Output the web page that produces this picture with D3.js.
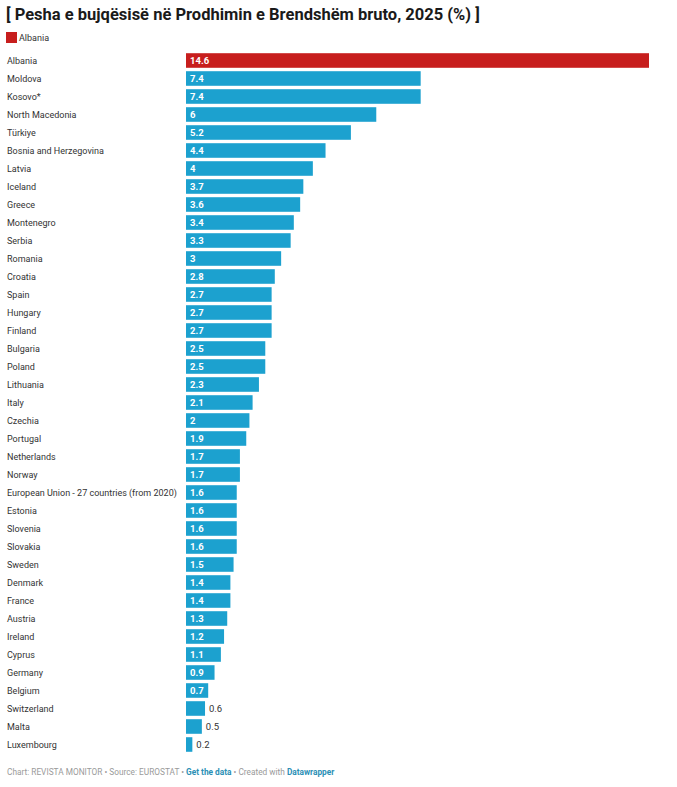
<!DOCTYPE html>
<html><head><meta charset="utf-8">
<script src="https://cdn.jsdelivr.net/npm/d3@7"></script>
<style>
body{margin:0;background:#fff;font-family:Roboto,"Noto Sans",sans-serif;}
</style></head>
<body>
<svg id="chart" width="677" height="787"></svg>
<script>
const countries = ["Albania","Moldova","Kosovo*","North Macedonia","Türkiye","Bosnia and Herzegovina","Latvia","Iceland","Greece","Montenegro","Serbia","Romania","Croatia","Spain","Hungary","Finland","Bulgaria","Poland","Lithuania","Italy","Czechia","Portugal","Netherlands","Norway","European Union - 27 countries (from 2020)","Estonia","Slovenia","Slovakia","Sweden","Denmark","France","Austria","Ireland","Cyprus","Germany","Belgium","Switzerland","Malta","Luxembourg"];
const values = [14.6,7.4,7.4,6,5.2,4.4,4,3.7,3.6,3.4,3.3,3,2.8,2.7,2.7,2.7,2.5,2.5,2.3,2.1,2,1.9,1.7,1.7,1.6,1.6,1.6,1.6,1.5,1.4,1.4,1.3,1.2,1.1,0.9,0.7,0.6,0.5,0.2];
const highlight = ["Albania"];
const title = "[ Pesha e bujqësisë në Prodhimin e Brendshëm bruto, 2025 (%) ]";

const data = countries.map((c,i)=>({c, v:values[i]}));
const svg = d3.select("#chart");
const RED = "#c71e1d", BLUE = "#1ca1cf";

svg.append("text").attr("x",6).attr("y",20).attr("font-size",16.5).attr("font-weight",700)
  .attr("fill","#1a1a1a").text(title);

const lg = svg.append("g");
lg.append("rect").attr("x",6).attr("y",32).attr("width",11).attr("height",11).attr("fill",RED);
lg.append("text").attr("x",19).attr("y",40.5).attr("font-size",9).attr("fill","#333").text("Albania");

const x = d3.scaleLinear().domain([0,14.6]).range([186,649]);
const y = d3.scaleBand().domain(countries).range([51.5, 753.5]).paddingInner(0.19).paddingOuter(0.095);

const rows = svg.append("g").selectAll("g").data(data).join("g");
rows.append("text").attr("x",7).attr("y",d=>y(d.c)+y.bandwidth()/2+3)
  .attr("font-size",9).attr("fill","#333").text(d=>d.c);
rows.append("rect").attr("x",x(0)).attr("y",d=>y(d.c)).attr("height",y.bandwidth())
  .attr("width",d=>x(d.v)-x(0)).attr("fill",d=>highlight.includes(d.c)?RED:BLUE);
rows.append("text")
  .attr("x",d=> d.v>=0.7 ? x(0)+4 : x(d.v)+4)
  .attr("y",d=>y(d.c)+y.bandwidth()/2+3.3)
  .attr("font-size",9.5)
  .attr("font-weight",d=>d.v>=0.7?700:400)
  .attr("fill",d=>d.v>=0.7?"#fff":"#333")
  .text(d=>d.v);

const f = svg.append("text").attr("x",7).attr("y",775).attr("font-size",8.3).attr("fill","#9a9a9a");
f.append("tspan").text("Chart: REVISTA MONITOR • Source: EUROSTAT • ");
f.append("tspan").attr("fill","#2b8fb5").attr("font-weight",700).text("Get the data");
f.append("tspan").text(" • Created with ");
f.append("tspan").attr("fill","#2b8fb5").attr("font-weight",700).text("Datawrapper");
</script>
</body></html>
